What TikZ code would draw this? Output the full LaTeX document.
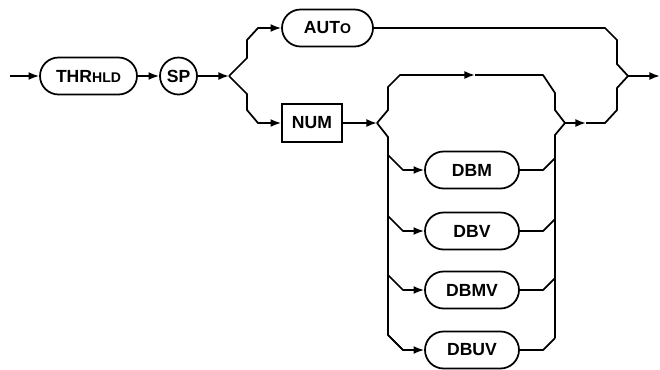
\documentclass[tikz,border=0pt]{standalone}
\usepackage{fontspec}
\setmainfont{Liberation Sans}
\usetikzlibrary{arrows.meta,shapes.misc}

\tikzset{
  rail/.style={line width=1pt, line join=round},
  tip/.style={-{Latex[length=6pt,width=4.5pt]}},
  kw/.style={draw, rounded rectangle, line width=1pt, minimum height=0.74cm,
    inner xsep=0pt, font=\fontsize{10}{12}\selectfont\bfseries},
  numbox/.style={draw, rectangle, line width=1pt, minimum height=0.76cm,
    minimum width=1.2cm, inner sep=0pt, font=\fontsize{10}{12}\selectfont\bfseries},
  spnode/.style={draw, circle, line width=1pt, minimum size=0.74cm,
    inner sep=0pt, font=\fontsize{10}{12}\selectfont\bfseries},
}

\begin{document}
\begin{tikzpicture}[x=0.02cm, y=-0.02cm]
\useasboundingbox (0,0) rectangle (660,369);
% Keywords and parameter
\node[kw, minimum width=1.94cm] (thrhld) at (88.5,76) {THR{\fontsize{8}{10}\selectfont HLD}};
\node[spnode] (sp) at (178.5,76) {SP};
\node[kw, minimum width=1.82cm] (auto) at (327.5,28) {AUT{\fontsize{8}{10}\selectfont O}};
\node[numbox] (num) at (312,123) {NUM};
% Units
\node[kw, minimum width=1.88cm] (dbm) at (472,170) {DBM};
\node[kw, minimum width=1.88cm] (dbv) at (472,231) {DBV};
\node[kw, minimum width=1.88cm] (dbmv) at (472,290) {DBMV};
\node[kw, minimum width=1.88cm] (dbuv) at (472,350) {DBUV};
% Junctions
\coordinate (start) at (10,76);
\coordinate (fork1) at (229,76);
\coordinate (fork2) at (377,123);
\coordinate (merge2) at (565,123);
\coordinate (fork3) at (628,76);
\coordinate (stop) at (660,76);
\coordinate (bypass) at (475,75);
\coordinate (mergetip) at (586,123);
% Main line
\draw[rail,tip] (start) -- (thrhld);
\draw[rail,tip] (thrhld) -- (sp);
\draw[rail,tip] (sp) -- (fork1);
\draw[rail,tip] (fork1) -- (247,58) -- (247,40) -- (258,28) -- (auto);
\draw[rail,tip] (fork1) -- (247,94) -- (247,110) -- (258,123) -- (num);
\draw[rail,tip] (num) -- (fork2);
% No units
\draw[rail,tip] (fork2) -- (388,110) -- (388,87) -- (400,75) -- (bypass);
\draw[rail] (bypass) -- (543,75) -- (555,93) -- (555,110) -- (merge2);
% Unit choices
\draw[rail] (fork2) -- (388,137) -- (388,335) -- (403,350);
\draw[rail] (555,338) -- (555,135) -- (merge2);
\foreach \u/\y in {dbm/170, dbv/231, dbmv/290, dbuv/350} {
  \draw[rail,tip] (388,\y-15) -- (403,\y) -- (\u);
  \draw[rail] (\u) -- (543,\y) -- (555,\y-12);
}
% Exit
\draw[rail,tip] (merge2) -- (mergetip);
\draw[rail] (mergetip) -- (605,123) -- (617,110) -- (617,88) -- (fork3);
\draw[rail] (auto) -- (605,28) -- (617,40) -- (617,64) -- (fork3);
\draw[rail,tip] (fork3) -- (stop);
\end{tikzpicture}
\end{document}
